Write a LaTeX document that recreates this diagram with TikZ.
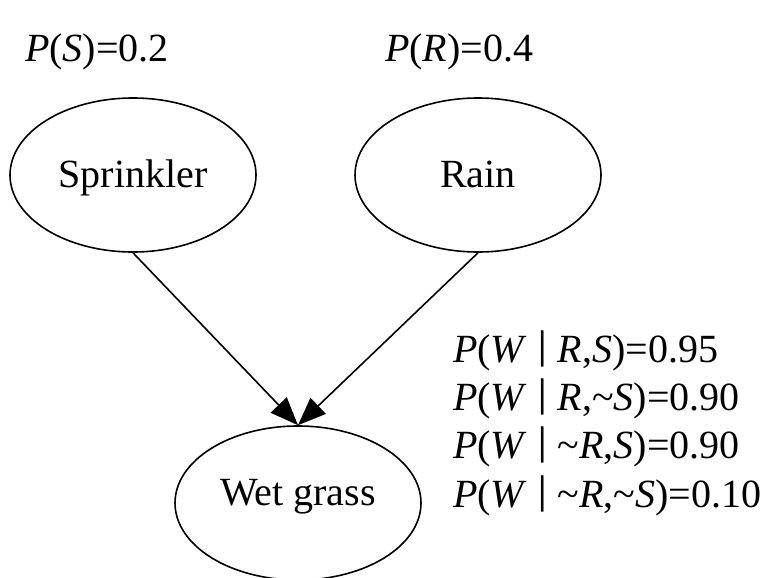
\documentclass[tikz,border=0pt]{standalone}
\usepackage{fontspec}
\setmainfont{Liberation Serif}
\usetikzlibrary{shapes.geometric,arrows.meta}
\newcommand{\gbar}{\raisebox{4pt}{\scalebox{1.3}[1.0]{|}}}
\begin{document}
\begin{tikzpicture}[x=1pt,y=-1pt,
  every node/.style={font=\fontsize{40}{48}\selectfont},
  var/.style={draw, ellipse, line width=1.6pt, inner sep=0pt,
    minimum width=246pt, minimum height=154pt, text height=27pt, text depth=3pt},
  lbl/.style={anchor=base west, inner sep=0pt},
  edge/.style={line width=1.6pt, -{Triangle[length=28pt,width=22pt]}}]
\useasboundingbox (0,0) rectangle (774,578);
\node[var] (S) at (133,175) {Sprinkler};
\node[var] (R) at (478,175) {Rain};
\node[var, text height=14pt, text depth=10pt] (W) at (298,503) {Wet grass};
\draw[edge] (S.south) -- (W.north);
\draw[edge] (R.south) -- (W.north);
\node[lbl] (ps) at (25,62) {\textit{P}(\textit{S})=0.2};
\node[lbl] (pr) at (385,62) {\textit{P}(\textit{R})=0.4};
\node[lbl] (w1) at (453,362) {\textit{P}(\textit{W} \gbar{} \textit{R},\textit{S})=0.95};
\node[lbl] (w2) at (453,410) {\textit{P}(\textit{W} \gbar{} \textit{R},\textasciitilde\textit{S})=0.90};
\node[lbl] (w3) at (453,458) {\textit{P}(\textit{W} \gbar{} \textasciitilde\textit{R},\textit{S})=0.90};
\node[lbl] (w4) at (453,507) {\textit{P}(\textit{W} \gbar{} \textasciitilde\textit{R},\textasciitilde\textit{S})=0.10};
\end{tikzpicture}
\end{document}
